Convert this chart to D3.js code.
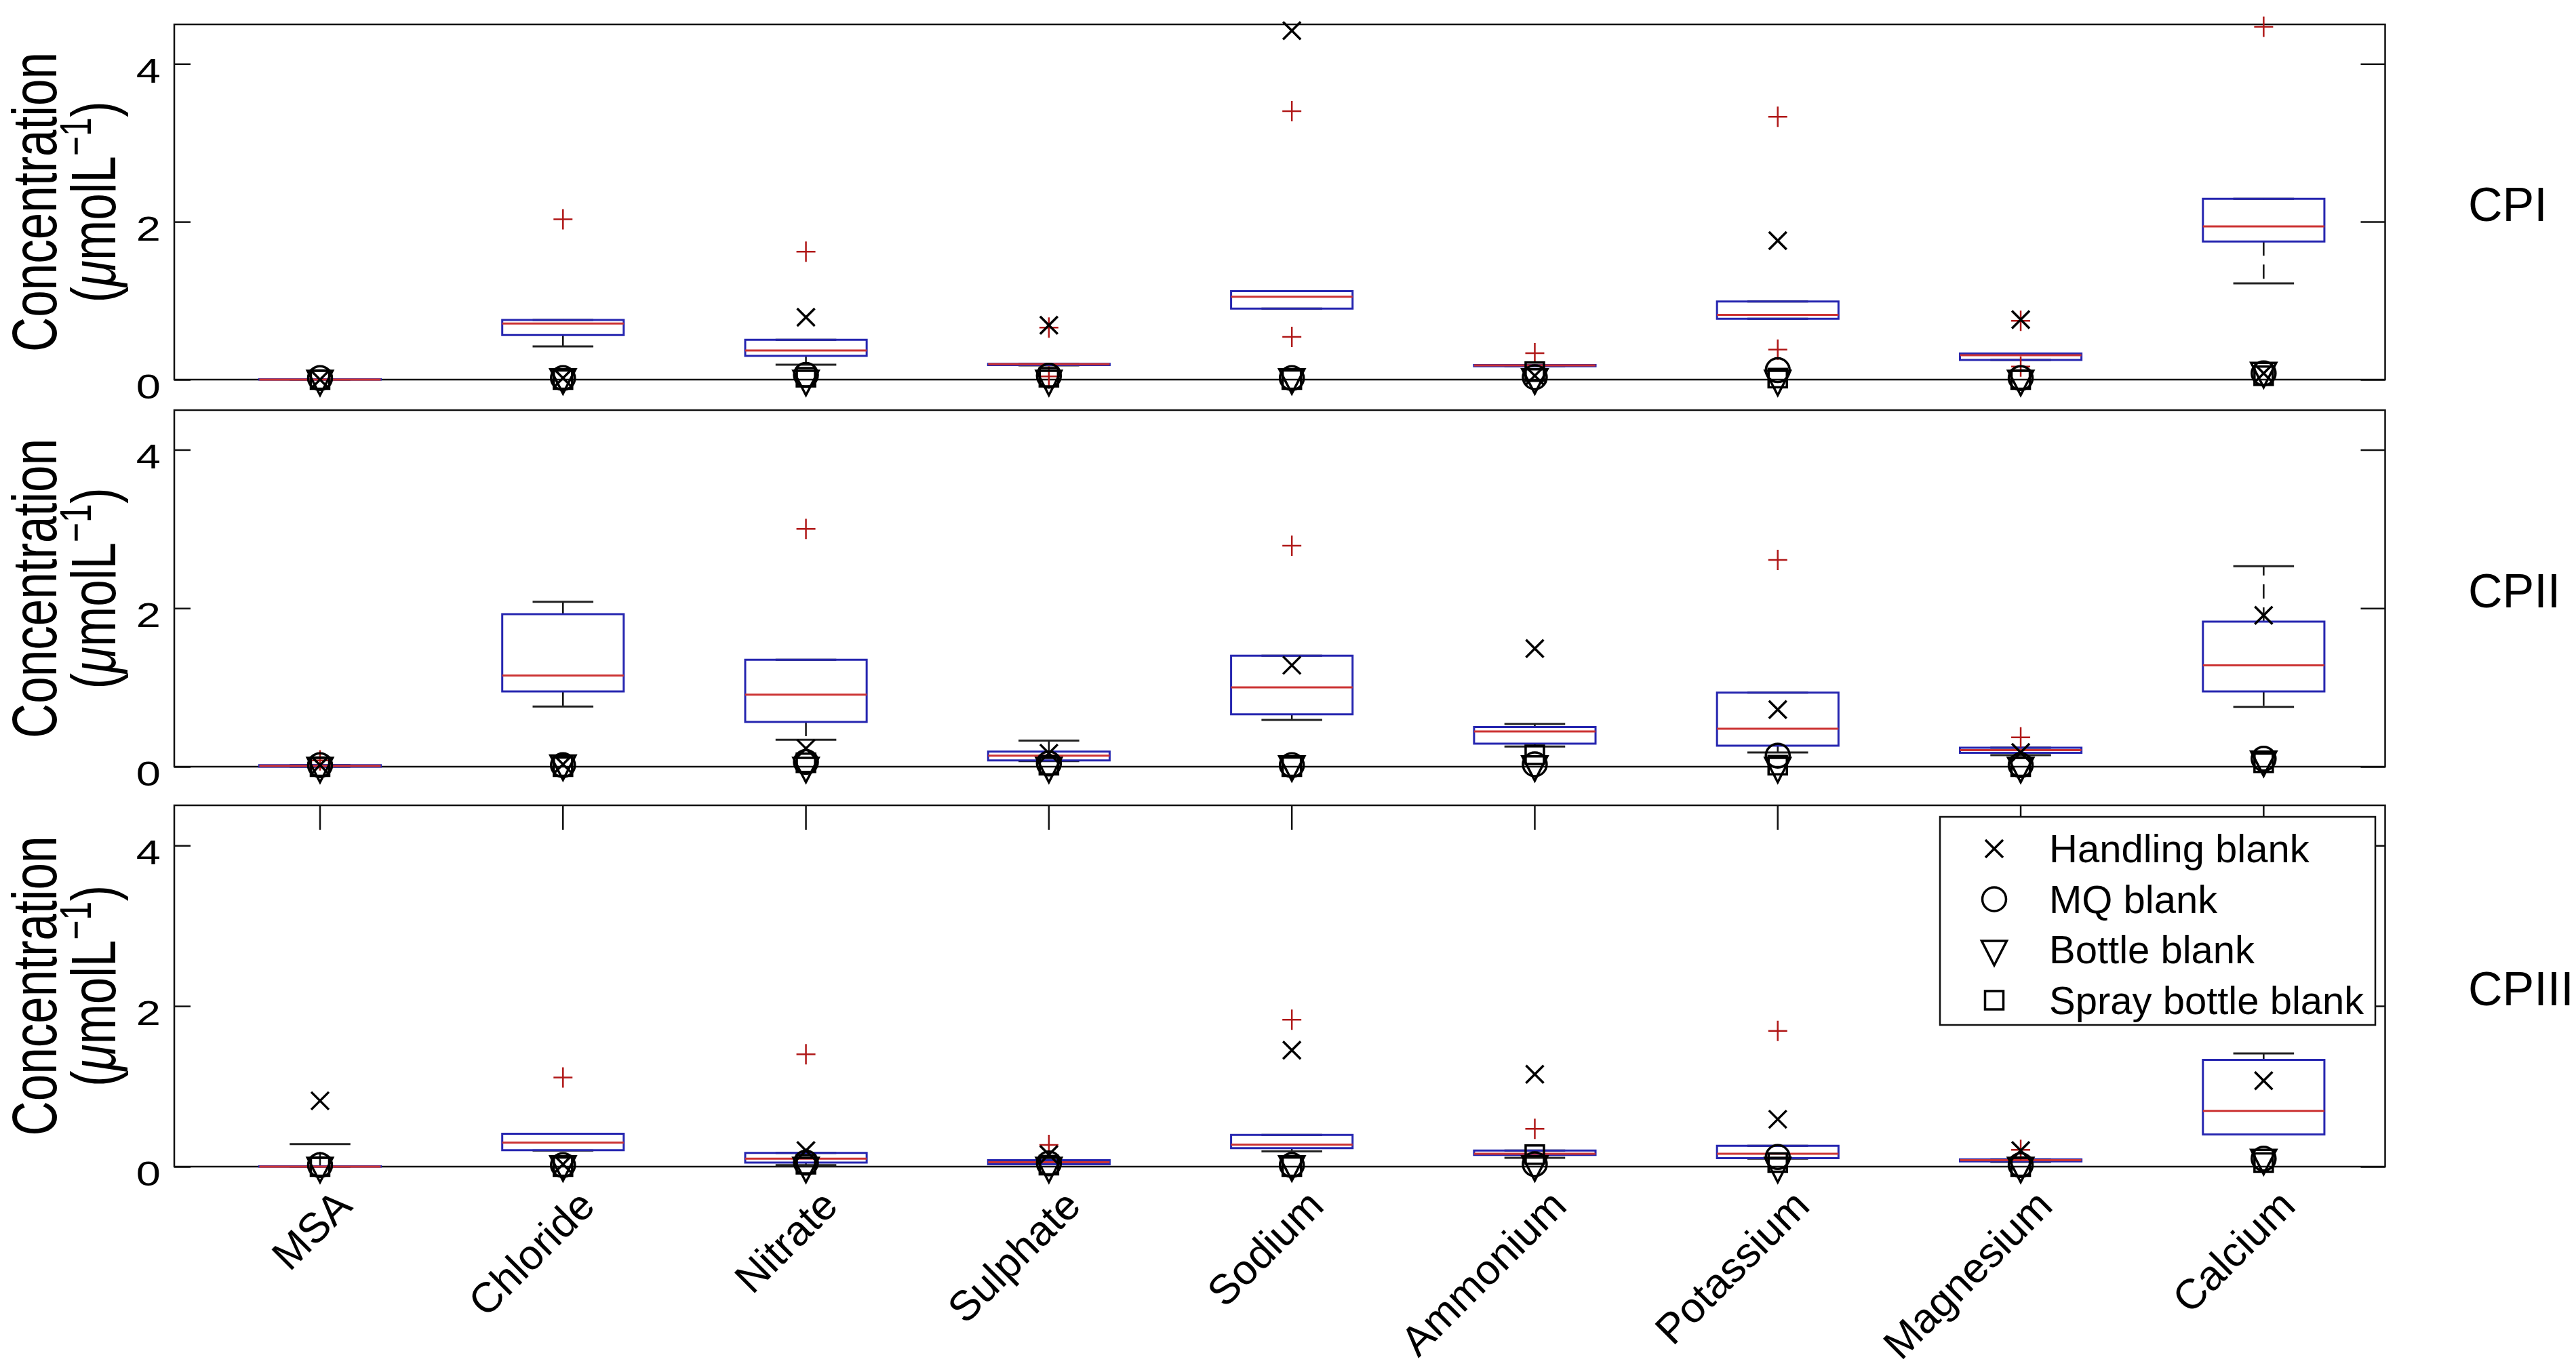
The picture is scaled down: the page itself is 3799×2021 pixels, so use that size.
<!DOCTYPE html>
<html>
<head>
<meta charset="utf-8">
<script src="https://cdn.jsdelivr.net/npm/d3@7/dist/d3.min.js"></script>
<style>
    body { margin: 0; background: #fff; }
    text { font-family: "Liberation Sans", Arial, Helvetica, sans-serif; fill: #000; }
</style>
</head>
<body>
<div id="chart"></div>
<script>
// ---- data ----
const categories = ["MSA", "Chloride", "Nitrate", "Sulphate", "Sodium", "Ammonium", "Potassium", "Magnesium", "Calcium"];
const panelNames = ["CPI", "CPII", "CPIII"];
const yTicks = [0, 2, 4];

// [lower whisker, q1, median, q3, upper whisker]
const boxStatsCPI = [
    [0, 0, 0, 0.005, 0.005],
    [0.42, 0.565, 0.71, 0.755, 0.755],
    [0.19, 0.30, 0.37, 0.505, 0.505],
    [0.18, 0.185, 0.195, 0.20, 0.20],
    [0.90, 0.90, 1.05, 1.12, 1.12],
    [0.17, 0.17, 0.18, 0.185, 0.185],
    [0.77, 0.77, 0.82, 0.99, 0.99],
    [0.25, 0.25, 0.31, 0.33, 0.33],
    [1.22, 1.75, 1.94, 2.29, 2.29]
];
const boxStatsCPII = [
    [0, 0, 0.01, 0.02, 0.02],
    [0.76, 0.95, 1.15, 1.925, 2.08],
    [0.34, 0.565, 0.91, 1.35, 1.35],
    [0.07, 0.08, 0.14, 0.19, 0.33],
    [0.59, 0.66, 1.0, 1.40, 1.40],
    [0.255, 0.29, 0.445, 0.50, 0.54],
    [0.18, 0.265, 0.48, 0.935, 0.935],
    [0.145, 0.175, 0.21, 0.24, 0.24],
    [0.755, 0.95, 1.28, 1.83, 2.53]
];
const boxStatsCPIII = [
    [0, 0, 0, 0.005, 0.28],
    [0.20, 0.205, 0.30, 0.41, 0.41],
    [0.02, 0.05, 0.10, 0.17, 0.17],
    [0.03, 0.03, 0.055, 0.08, 0.08],
    [0.19, 0.23, 0.275, 0.395, 0.395],
    [0.11, 0.145, 0.16, 0.20, 0.20],
    [0.10, 0.105, 0.16, 0.26, 0.26],
    [0.06, 0.065, 0.08, 0.09, 0.09],
    [0.40, 0.40, 0.695, 1.33, 1.41]
];

const outliersCPI = [[], [2.03], [1.62], [0.66, 0.04], [3.40, 0.54], [0.335], [3.33, 0.38], [0.745, 0.165], [4.47]];
const outliersCPII = [[0.08], [], [3.0], [], [2.79], [], [2.61], [0.37], []];
const outliersCPIII = [[], [1.11], [1.40], [0.27], [1.83], [0.47], [1.69], [0.21], []];

// blanks, one row per panel (CPI, CPII, CPIII)
const handlingBlank = [
    [0.0, 0.02, 0.79, 0.69, 4.42, 0.05, 1.76, 0.76, 0.08],
    [0.02, 0.03, 0.23, 0.17, 1.28, 1.49, 0.72, 0.18, 1.91],
    [0.82, 0.03, 0.20, 0.15, 1.45, 1.15, 0.59, 0.20, 1.07]
];
const mqBlank = [
    [0.02, 0.02, 0.06, 0.05, 0.02, 0.03, 0.12, 0.02, 0.08],
    [0.02, 0.02, 0.06, 0.04, 0.02, 0.03, 0.14, 0.02, 0.10],
    [0.02, 0.02, 0.05, 0.04, 0.02, 0.03, 0.12, 0.02, 0.10]
];
const bottleBlank = [
    [0.0, 0.02, 0.0, 0.0, 0.02, 0.02, 0.0, 0.0, 0.10],
    [0.0, 0.03, 0.0, 0.0, 0.02, 0.02, 0.0, 0.0, 0.08],
    [0.0, 0.02, 0.0, 0.0, 0.02, 0.02, 0.0, 0.0, 0.10]
];
const sprayBlank = [
    [0.0, 0.0, 0.03, 0.03, 0.0, 0.10, 0.02, 0.0, 0.05],
    [0.0, 0.0, 0.05, 0.02, 0.0, 0.15, 0.02, 0.0, 0.05],
    [0.0, 0.0, 0.03, 0.02, 0.0, 0.15, 0.05, 0.0, 0.05]
];
const legendLabels = ["Handling blank", "MQ blank", "Bottle blank", "Spray bottle blank"];

// ---- layout ----
const width = 3799, height = 2021;
const panelBounds = [
    { top: 36, bottom: 560 },
    { top: 605, bottom: 1131 },
    { top: 1188, bottom: 1721 }
];
const boxColor = "#2626b0";
const medianColor = "#cc3333";
const outlierColor = "#b01818";

// marker shapes (centred on the data point)
const markerPaths = {
    handling: "M-13,-13L13,13M-13,13L13,-13",
    mq: d3.symbol(d3.symbolCircle, Math.PI * 17.5 * 17.5)(),
    bottle: "M-18.5,-13L18.5,-13L0,23Z",
    spray: "M-13.5,-13.5H13.5V13.5H-13.5Z",
    plus: "M-14,0H14M0,-15V15"
};
const blankSeries = [
    { key: "handling", values: handlingBlank },
    { key: "mq", values: mqBlank },
    { key: "bottle", values: bottleBlank },
    { key: "spray", values: sprayBlank }
];

const svg = d3.select("#chart")
    .append("svg")
    .attr("width", width)
    .attr("height", height);

const x = d3.scaleLinear().domain([0.4, 9.5]).range([257, 3517.5]);
const boxHalf = x(0.25) - x(0);
const capHalf = x(0.125) - x(0);

class PanelVis {
    constructor(index, boxStats, outliers) {
        this.index = index;
        this.boxStats = boxStats;
        this.outliers = outliers;
        this.bounds = panelBounds[index];
        this.initVis();
    }

    initVis() {
        const vis = this;
        vis.y = d3.scaleLinear().domain([0, 4.5]).range([vis.bounds.bottom, vis.bounds.top]);
        vis.g = svg.append("g").attr("class", "panel");

        // frame
        vis.g.append("rect")
            .attr("x", x.range()[0])
            .attr("y", vis.bounds.top)
            .attr("width", x.range()[1] - x.range()[0])
            .attr("height", vis.bounds.bottom - vis.bounds.top)
            .attr("fill", "none")
            .attr("stroke", "#111")
            .attr("stroke-width", 2.5);

        // left axis, ticks pointing inward
        const leftAxis = vis.g.append("g")
            .attr("transform", `translate(${x.range()[0]},0)`)
            .call(d3.axisLeft(vis.y).tickValues(yTicks).tickFormat(d3.format("d"))
                .tickSizeInner(-24).tickSizeOuter(0).tickPadding(20));
        leftAxis.select(".domain").remove();
        leftAxis.selectAll("line").attr("stroke", "#111").attr("stroke-width", 2.5);
        leftAxis.selectAll("text")
            .attr("x", 0)
            .attr("dy", "0.35em")
            .attr("font-size", 50)
            .attr("font-family", null)
            .attr("transform", "translate(-20,10) scale(1.3,1)");

        // right axis, no labels
        const rightAxis = vis.g.append("g")
            .attr("transform", `translate(${x.range()[1]},0)`)
            .call(d3.axisRight(vis.y).tickValues(yTicks).tickSizeInner(-36).tickSizeOuter(0).tickFormat(""));
        rightAxis.select(".domain").remove();
        rightAxis.selectAll("line").attr("stroke", "#111").attr("stroke-width", 2.5);

        // y label
        const midY = (vis.bounds.top + vis.bounds.bottom) / 2;
        vis.g.append("text")
            .attr("transform", `translate(83,${midY}) scale(1.3,1) rotate(-90)`)
            .attr("text-anchor", "middle")
            .attr("font-size", 71)
            .text("Concentration");

        const unit = vis.g.append("text")
            .attr("transform", `translate(170,${midY}) scale(1.3,1) rotate(-90)`)
            .attr("text-anchor", "middle")
            .attr("font-size", 71);
        unit.append("tspan").text("(");
        unit.append("tspan").attr("font-style", "italic").text("\u03bc");
        unit.append("tspan").text("molL");
        unit.append("tspan").attr("dy", -28).attr("font-size", 50).text("\u22121");
        unit.append("tspan").attr("dy", 28).text(")");

        // panel name on the right
        vis.g.append("text")
            .attr("x", 3640)
            .attr("y", midY + 28)
            .attr("font-size", 70)
            .text(panelNames[vis.index]);

        vis.updateVis();
    }

    updateVis() {
        const vis = this;
        const rows = vis.boxStats.map((s, i) => ({ pos: i + 1, s: s, out: vis.outliers[i] }));

        const boxes = vis.g.selectAll(".box")
            .data(rows)
            .enter().append("g")
            .attr("class", "box");

        // whiskers (dashed) and caps
        boxes.append("line")
            .attr("x1", d => x(d.pos)).attr("x2", d => x(d.pos))
            .attr("y1", d => vis.y(d.s[3])).attr("y2", d => vis.y(d.s[4]))
            .attr("stroke", "#111").attr("stroke-width", 2.5)
            .attr("stroke-dasharray", "21,13");
        boxes.append("line")
            .attr("x1", d => x(d.pos)).attr("x2", d => x(d.pos))
            .attr("y1", d => vis.y(d.s[1])).attr("y2", d => vis.y(d.s[0]))
            .attr("stroke", "#111").attr("stroke-width", 2.5)
            .attr("stroke-dasharray", "21,13");
        [0, 4].forEach(k => {
            boxes.append("line")
                .attr("x1", d => x(d.pos) - capHalf).attr("x2", d => x(d.pos) + capHalf)
                .attr("y1", d => vis.y(d.s[k])).attr("y2", d => vis.y(d.s[k]))
                .attr("stroke", "#222").attr("stroke-width", 3);
        });

        // box
        boxes.append("path")
            .attr("d", d => {
                const x0 = x(d.pos) - boxHalf, x1 = x(d.pos) + boxHalf;
                return `M${x0},${vis.y(d.s[3])}H${x1}V${vis.y(d.s[1])}H${x0}Z`;
            })
            .attr("fill", "none")
            .attr("stroke", boxColor)
            .attr("stroke-width", 3);

        // median
        boxes.append("line")
            .attr("x1", d => x(d.pos) - boxHalf).attr("x2", d => x(d.pos) + boxHalf)
            .attr("y1", d => vis.y(d.s[2])).attr("y2", d => vis.y(d.s[2]))
            .attr("stroke", medianColor).attr("stroke-width", 3);

        // outliers
        boxes.selectAll(".outlier")
            .data(d => d.out.map(v => ({ pos: d.pos, v: v })))
            .enter().append("path")
            .attr("class", "outlier")
            .attr("transform", d => `translate(${x(d.pos)},${vis.y(d.v)})`)
            .attr("d", markerPaths.plus)
            .attr("fill", "none")
            .attr("stroke", outlierColor)
            .attr("stroke-width", 2.5);

        // blanks on top
        blankSeries.forEach(series => {
            vis.g.selectAll(`.blank-${series.key}`)
                .data(series.values[vis.index])
                .enter().append("path")
                .attr("class", `blank-${series.key}`)
                .attr("transform", (v, i) => `translate(${x(i + 1)},${vis.y(v)})`)
                .attr("d", markerPaths[series.key])
                .attr("fill", "none")
                .attr("stroke", "#000")
                .attr("stroke-width", 3.5);
        });
    }
}

const panels = [
    new PanelVis(0, boxStatsCPI, outliersCPI),
    new PanelVis(1, boxStatsCPII, outliersCPII),
    new PanelVis(2, boxStatsCPIII, outliersCPIII)
];

// top ticks only show on the last panel
const lastTop = panelBounds[2].top;
svg.append("g")
    .selectAll("line")
    .data(categories)
    .enter().append("line")
    .attr("x1", (d, i) => x(i + 1)).attr("x2", (d, i) => x(i + 1))
    .attr("y1", lastTop).attr("y2", lastTop + 36)
    .attr("stroke", "#111").attr("stroke-width", 2.5);

// category labels, rotated
svg.append("g")
    .selectAll("text")
    .data(categories)
    .enter().append("text")
    .attr("transform", (d, i) => `translate(${x(i + 1) + 50},1782) rotate(-45)`)
    .attr("text-anchor", "end")
    .attr("font-size", 62)
    .text(d => d);

// legend
const legend = svg.append("g")
    .attr("class", "legend")
    .attr("transform", "translate(2861,1205)");
legend.append("rect")
    .attr("width", 642)
    .attr("height", 307)
    .attr("fill", "#fff")
    .attr("stroke", "#111")
    .attr("stroke-width", 2.5);
const items = legend.selectAll(".item")
    .data(blankSeries)
    .enter().append("g")
    .attr("class", "item")
    .attr("transform", (d, i) => `translate(0,${47 + i * 74.5})`);
items.append("path")
    .attr("transform", "translate(80,0)")
    .attr("d", d => markerPaths[d.key])
    .attr("fill", "none")
    .attr("stroke", "#000")
    .attr("stroke-width", 3.5);
items.append("text")
    .attr("x", 161)
    .attr("dy", "0.35em")
    .attr("font-size", 58)
    .text((d, i) => legendLabels[i]);
</script>
</body>
</html>
